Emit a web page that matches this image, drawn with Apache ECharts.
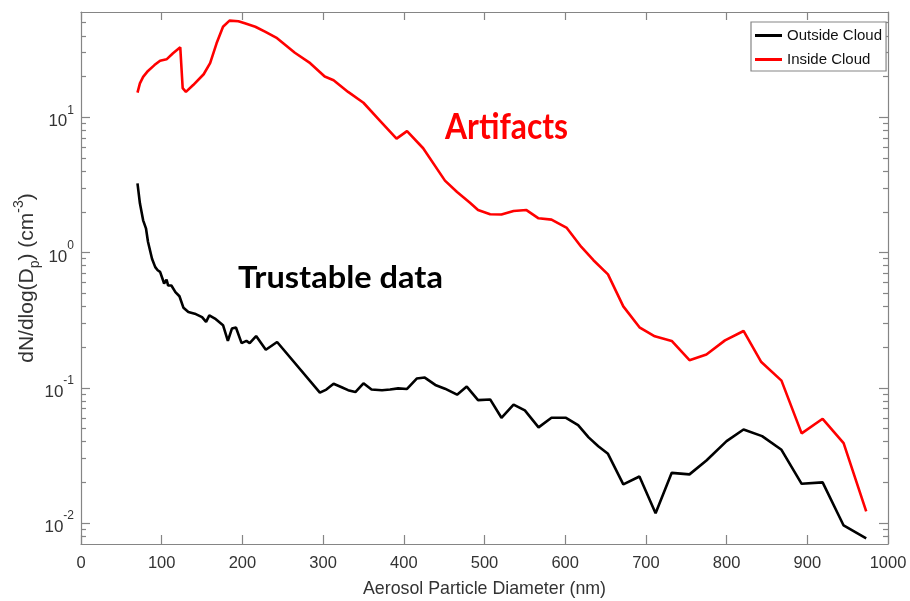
<!DOCTYPE html>
<html>
<head>
<meta charset="utf-8">
<script src="https://cdn.jsdelivr.net/npm/echarts@6/dist/echarts.min.js"></script>
<style>
  html, body { margin: 0; padding: 0; background: #ffffff; }
  #chart { width: 910px; height: 601px; }
</style>
</head>
<body>
<div id="chart"></div>
<script>
// Particle size distributions (diameter in nm, dN/dlog(Dp) in cm^-3)
const outsideD = [70, 73, 77, 80.5, 83, 88, 92, 95, 98, 101, 103, 106, 108, 112, 117, 122, 127, 133, 141, 150,
  155, 159, 166, 176, 182, 187, 192, 199, 205, 209, 217, 229, 243, 296, 304, 313, 323, 331, 340, 350,
  360, 373, 383, 393, 404, 416, 426, 439, 451, 466, 478, 492, 507, 521, 536, 550, 567, 583, 601, 616,
  629, 641, 653, 672, 692, 712, 732, 754, 775, 800, 821, 844, 868, 893, 919, 945, 973];
const outsideN = [3.24, 2.31, 1.73, 1.51, 1.20, 0.90, 0.78, 0.74, 0.72, 0.64, 0.59, 0.63, 0.57, 0.57, 0.51, 0.475, 0.39, 0.363, 0.353, 0.333,
  0.307, 0.343, 0.325, 0.290, 0.222, 0.274, 0.279, 0.214, 0.222, 0.214, 0.241, 0.191, 0.218, 0.092, 0.097, 0.107, 0.101, 0.096, 0.093, 0.108,
  0.097, 0.096, 0.097, 0.099, 0.098, 0.117, 0.119, 0.105, 0.0985, 0.089, 0.102, 0.081, 0.082, 0.060, 0.075, 0.068, 0.051, 0.060, 0.060, 0.053,
  0.043, 0.037, 0.0325, 0.0193, 0.0221, 0.0118, 0.0235, 0.0229, 0.029, 0.0403, 0.0492, 0.0439, 0.0348, 0.0195, 0.0200, 0.0096, 0.0077];

const insideD = [70, 73, 77, 83, 91, 98, 106, 114, 123, 126, 130, 139, 152, 160, 168, 176, 184, 195, 203, 216,
  228, 243, 265, 284, 302, 313, 331, 350, 370, 391, 404, 424, 451, 466, 482, 492, 507, 521, 536, 552,
  567, 583, 602, 620, 635, 653, 672, 692, 711, 732, 754, 775, 798, 821, 843, 868, 893, 919, 945, 973];
const insideN = [15.2, 17.8, 19.9, 22.0, 24.3, 26.2, 26.8, 29.7, 32.9, 16.4, 15.4, 17.3, 20.8, 25.1, 35.2, 46.7, 51.8, 51.3, 49.5, 46.7,
  43.0, 38.4, 30.0, 25.1, 20.0, 18.8, 15.4, 12.8, 9.5, 6.95, 7.9, 5.9, 3.4, 2.8, 2.33, 2.06, 1.92, 1.91, 2.03, 2.06,
  1.79, 1.75, 1.52, 1.10, 0.877, 0.69, 0.40, 0.28, 0.24, 0.222, 0.160, 0.176, 0.224, 0.263, 0.155, 0.113, 0.046, 0.059, 0.039, 0.0122];

// Axis ticks
const yMajor = [0.01, 0.1, 1, 10];
const yMinor = [0.008, 0.009,
  0.02, 0.03, 0.04, 0.05, 0.06, 0.07, 0.08, 0.09,
  0.2, 0.3, 0.4, 0.5, 0.6, 0.7, 0.8, 0.9,
  2, 3, 4, 5, 6, 7, 8, 9,
  20, 30, 40, 50];
const seriesNames = ['Outside Cloud', 'Inside Cloud'];

const FONT = '"Liberation Sans", Arial, Helvetica, sans-serif';
const AXIS_COLOR = '#858585';
const TEXT_COLOR = '#333333';
const Y_MIN = 0.007, Y_MAX = 60;

const pair = (xs, ys) => xs.map((x, i) => [x, ys[i]]);

function logAxis(pos, values, len, showLine) {
  return {
    type: 'log', logBase: 10, min: Y_MIN, max: Y_MAX, position: pos,
    axisLine: { show: showLine, lineStyle: { color: AXIS_COLOR, width: 1.2 } },
    axisTick: { show: true, inside: true, length: len, customValues: values,
      lineStyle: { color: AXIS_COLOR, width: 1.2 } },
    axisLabel: { show: false },
    splitLine: { show: false },
    minorTick: { show: false }
  };
}

const chart = echarts.init(document.getElementById('chart'), null, { renderer: 'canvas' });

const option = {
  animation: false,
  backgroundColor: '#ffffff',
  grid: { left: 81, right: 22, top: 12, bottom: 57, containLabel: false, outerBoundsMode: 'none' },
  legend: {
    data: seriesNames,
    orient: 'vertical',
    left: 751, top: 22,
    icon: 'rect', itemWidth: 27, itemHeight: 3, itemGap: 5,
    padding: [4, 4, 2, 4],
    borderColor: AXIS_COLOR, borderWidth: 1.2, borderRadius: 0,
    backgroundColor: '#ffffff',
    textStyle: { fontFamily: FONT, fontSize: 15, color: '#111111', lineHeight: 19 }
  },
  xAxis: [
    {
      type: 'value', min: 0, max: 1000, interval: 100, position: 'bottom',
      axisLine: { lineStyle: { color: AXIS_COLOR, width: 1.2 } },
      axisTick: { inside: true, length: 9, lineStyle: { color: AXIS_COLOR, width: 1.2 } },
      axisLabel: { color: TEXT_COLOR, fontFamily: FONT, fontSize: 16.5, margin: 11,
        formatter: v => String(v) },
      splitLine: { show: false },
      name: 'Aerosol Particle Diameter (nm)', nameLocation: 'middle', nameGap: 36,
      nameMoveOverlap: false,
      nameTextStyle: { color: TEXT_COLOR, fontFamily: FONT, fontSize: 17.8 }
    },
    {
      type: 'value', min: 0, max: 1000, interval: 100, position: 'top',
      axisLine: { lineStyle: { color: AXIS_COLOR, width: 1.2 } },
      axisTick: { inside: true, length: 8, lineStyle: { color: AXIS_COLOR, width: 1.2 } },
      axisLabel: { show: false },
      splitLine: { show: false }
    }
  ],
  yAxis: [
    Object.assign(logAxis('left', yMajor, 9, true), {
      axisLabel: {
        show: true, customValues: yMajor, margin: 7,
        formatter: v => '{b|10}{s|' + Math.round(Math.log10(v)) + '}',
        rich: {
          b: { fontFamily: FONT, fontSize: 17, color: TEXT_COLOR, verticalAlign: 'bottom', lineHeight: 26 },
          s: { fontFamily: FONT, fontSize: 12, color: TEXT_COLOR, verticalAlign: 'top', lineHeight: 26 }
        }
      },
      name: 'dN/dlog(D{sub|p}) (cm{sup|-3})',
      nameLocation: 'middle', nameRotate: 90, nameGap: 39,
      nameMoveOverlap: false,
      nameTextStyle: {
        fontFamily: FONT, fontSize: 21, color: TEXT_COLOR,
        rich: {
          sub: { fontFamily: FONT, fontSize: 14, color: TEXT_COLOR, verticalAlign: 'bottom', lineHeight: 30 },
          sup: { fontFamily: FONT, fontSize: 14, color: TEXT_COLOR, verticalAlign: 'top', lineHeight: 30 }
        }
      }
    }),
    logAxis('left', yMinor, 5, false),
    logAxis('right', yMajor, 9, true),
    logAxis('right', yMinor, 5, false)
  ],
  series: [
    {
      name: seriesNames[0], type: 'line', xAxisIndex: 0, yAxisIndex: 0,
      data: pair(outsideD, outsideN), symbol: 'none', smooth: false,
      lineStyle: { color: '#000000', width: 2.6 }, itemStyle: { color: '#000000' }
    },
    {
      name: seriesNames[1], type: 'line', xAxisIndex: 0, yAxisIndex: 0,
      data: pair(insideD, insideN), symbol: 'none', smooth: false,
      lineStyle: { color: '#ff0000', width: 2.6 }, itemStyle: { color: '#ff0000' }
    }
  ],
  graphic: [
    {
      type: 'text', left: 445, top: 109, scaleX: 0.86,
      style: { text: 'Artifacts', fill: '#ff0000', font: 'bold 37px Lato, "Open Sans", sans-serif' }
    },
    {
      type: 'text', left: 238, top: 262, scaleX: 1.05,
      style: { text: 'Trustable data', fill: '#000000', font: 'bold 31px Lato, "Open Sans", sans-serif' }
    }
  ]
};

chart.setOption(option);
</script>
</body>
</html>
